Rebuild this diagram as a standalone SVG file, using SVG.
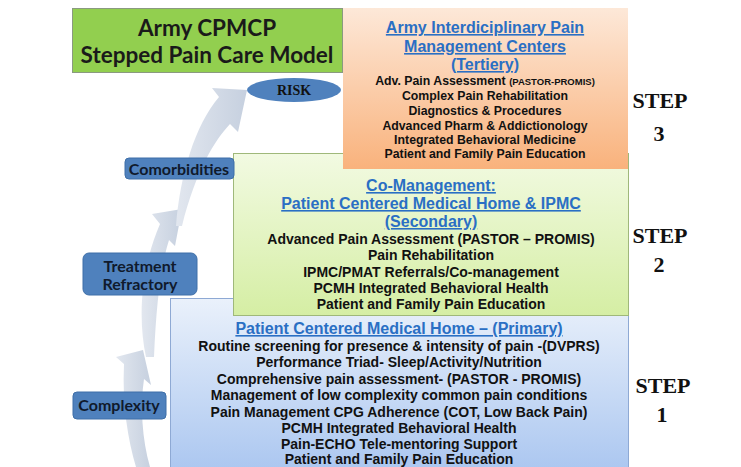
<svg xmlns="http://www.w3.org/2000/svg" width="741" height="467" viewBox="0 0 741 467">
  <defs>
    <linearGradient id="gOrange" x1="0" y1="0" x2="0" y2="1">
      <stop offset="0" stop-color="#fde8d8"/>
      <stop offset="1" stop-color="#f9b27c"/>
    </linearGradient>
    <linearGradient id="gGreen" x1="0" y1="0" x2="0" y2="1">
      <stop offset="0" stop-color="#f2fae2"/>
      <stop offset="1" stop-color="#d5eea4"/>
    </linearGradient>
    <linearGradient id="gBlue" x1="0" y1="0" x2="0" y2="1">
      <stop offset="0" stop-color="#eaf1fb"/>
      <stop offset="1" stop-color="#aac6f0"/>
    </linearGradient>
    <linearGradient id="gArrow" x1="0" y1="0" x2="1" y2="0">
      <stop offset="0" stop-color="#e2e7ef"/>
      <stop offset="1" stop-color="#c6d0df"/>
    </linearGradient>
    <style>
      .title { font-family: Lato, "Open Sans", sans-serif; font-weight: bold; font-size: 22.5px; fill: #1a1a1a; text-anchor: middle; }
      .head { font-family: "Liberation Sans", Arial, sans-serif; font-weight: bold; font-size: 16px; fill: #2a6fc4; text-anchor: middle; text-decoration: underline; }
      .item { font-family: "Liberation Sans", Arial, sans-serif; font-weight: bold; font-size: 14px; fill: #111; text-anchor: middle; }
      .item3 { font-family: "Liberation Sans", Arial, sans-serif; font-weight: bold; font-size: 12.3px; fill: #111; text-anchor: middle; }
      .step { font-family: "Liberation Serif", "Times New Roman", serif; font-weight: bold; font-size: 22px; fill: #111; text-anchor: middle; }
      .lbl { fill: #4f81bd; stroke: #3f6fa8; stroke-width: 1; }
      .lbltxt { font-family: Lato, "Open Sans", sans-serif; font-weight: bold; font-size: 16px; fill: #101a2c; text-anchor: middle; }
      .arrow { fill: url(#gArrow); }
    </style>
  </defs>

  <rect width="741" height="467" fill="#ffffff"/>

  <!-- curved progression arrows -->
  <g id="connectors">
    <path class="arrow" d="M136,467 C128,440 122,405 124,364 L116,357 L143,350 L151,385 L144,379 C140,405 142,440 150,467 Z"/>
    <path class="arrow" d="M160,224 L152,214 L182,209 L175,246 L169,240 C160,268 156,310 154,357 L146,357 C138,320 140,270 160,224 Z"/>
    <path class="arrow" d="M219,97 L212,88 L247,90 L238,132 L230,124 C215,140 196,170 182,226 L176,226 C180,175 195,125 219,97 Z"/>
  </g>

  <!-- Step 1: primary care -->
  <g id="step1">
    <rect x="170.5" y="298.5" width="458" height="175" fill="url(#gBlue)" stroke="#8ea9d4" stroke-width="1"/>
    <text class="head" x="399" y="334">Patient Centered Medical Home – (Primary)</text>
    <text class="item" x="399" y="350.5">Routine screening for presence &amp; intensity of pain -(DVPRS)</text>
    <text class="item" x="399" y="367">Performance Triad- Sleep/Activity/Nutrition</text>
    <text class="item" x="399" y="383.5">Comprehensive pain assessment- (PASTOR - PROMIS)</text>
    <text class="item" x="399" y="400">Management of low complexity common pain conditions</text>
    <text class="item" x="399" y="416.5">Pain Management CPG Adherence (COT, Low Back Pain)</text>
    <text class="item" x="399" y="433">PCMH Integrated Behavioral Health</text>
    <text class="item" x="399" y="449">Pain-ECHO Tele-mentoring Support</text>
    <text class="item" x="399" y="464">Patient and Family Pain Education</text>
  </g>

  <!-- Step 2: secondary co-management -->
  <g id="step2">
    <rect x="233.5" y="153.5" width="395" height="162" fill="url(#gGreen)" stroke="#9fb87a" stroke-width="1"/>
    <text class="head" x="431" y="191">Co-Management:</text>
    <text class="head" x="431" y="209">Patient Centered Medical Home &amp; IPMC</text>
    <text class="head" x="431" y="227">(Secondary)</text>
    <text class="item" x="431" y="243.5">Advanced Pain Assessment (PASTOR – PROMIS)</text>
    <text class="item" x="431" y="260">Pain Rehabilitation</text>
    <text class="item" x="431" y="276.5">IPMC/PMAT Referrals/Co-management</text>
    <text class="item" x="431" y="293">PCMH Integrated Behavioral Health</text>
    <text class="item" x="431" y="309">Patient and Family Pain Education</text>
  </g>

  <!-- Step 3: tertiary centers -->
  <g id="step3">
    <rect x="343" y="8" width="285" height="161" fill="url(#gOrange)"/>
    <text class="head" x="485" y="33">Army Interdiciplinary Pain</text>
    <text class="head" x="485" y="52">Management Centers</text>
    <text class="head" x="485" y="70">(Tertiery)</text>
    <text class="item3" x="485" y="85">Adv. Pain Assessment <tspan font-size="9.5">(PASTOR-PROMIS)</tspan></text>
    <text class="item3" x="485" y="100">Complex Pain Rehabilitation</text>
    <text class="item3" x="485" y="115">Diagnostics &amp; Procedures</text>
    <text class="item3" x="485" y="130">Advanced Pharm &amp; Addictionology</text>
    <text class="item3" x="485" y="144">Integrated Behavioral Medicine</text>
    <text class="item3" x="485" y="158">Patient and Family Pain Education</text>
  </g>

  <!-- title -->
  <g id="title">
    <rect x="72.5" y="8.5" width="270" height="64" fill="#92cf4f" stroke="#8a9a80" stroke-width="1"/>
    <text class="title" x="207" y="36">Army CPMCP</text>
    <text class="title" x="207" y="63">Stepped Pain Care Model</text>
  </g>

  <!-- risk -->
  <g id="risk">
    <ellipse cx="294" cy="90" rx="47" ry="12" fill="#4f81bd"/>
    <text x="294" y="95" font-family="Liberation Serif, serif" font-weight="bold" font-size="14" fill="#111" text-anchor="middle">RISK</text>
  </g>

  <!-- escalation labels -->
  <g id="comorbidities">
    <rect class="lbl" x="125" y="158" width="109" height="21" rx="4"/>
    <text class="lbltxt" x="179" y="175">Comorbidities</text>
  </g>
  <g id="treatment-refractory">
    <rect class="lbl" x="83" y="253" width="114" height="42" rx="6"/>
    <text class="lbltxt" x="140" y="272">Treatment</text>
    <text class="lbltxt" x="140" y="290">Refractory</text>
  </g>
  <g id="complexity">
    <rect class="lbl" x="73" y="392" width="93" height="27" rx="4"/>
    <text class="lbltxt" x="119" y="411">Complexity</text>
  </g>

  <!-- step markers -->
  <g id="step-labels">
    <text class="step" x="660" y="108">STEP</text>
    <text class="step" x="659" y="141">3</text>
    <text class="step" x="660" y="243">STEP</text>
    <text class="step" x="659" y="272" font-size="19">2</text>
    <text class="step" x="663" y="393">STEP</text>
    <text class="step" x="662" y="422" font-size="19">1</text>
  </g>
</svg>
